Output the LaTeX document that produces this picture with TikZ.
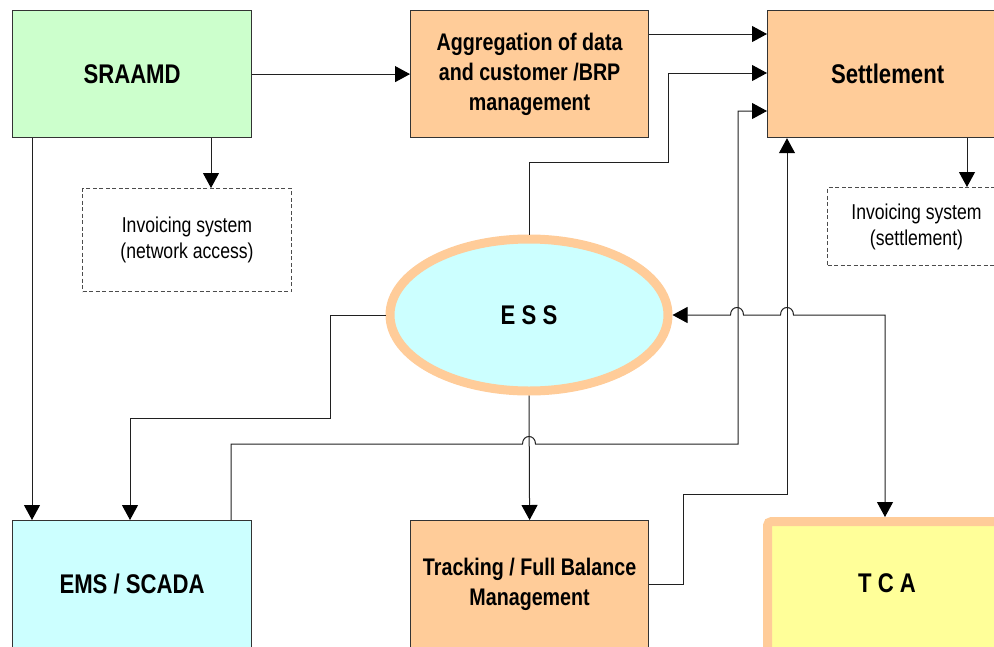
\documentclass[tikz,border=0pt]{standalone}
\usepackage{fontspec}
\setmainfont{Liberation Sans}[FakeStretch=0.82]
\usetikzlibrary{arrows.meta,shapes.geometric}

\definecolor{boxgreen}{HTML}{CCFFCC}
\definecolor{boxorange}{HTML}{FFCC99}
\definecolor{boxcyan}{HTML}{CCFFFF}
\definecolor{boxyellow}{HTML}{FFFF99}
\definecolor{edgegray}{HTML}{333333}
\definecolor{wiregray}{HTML}{202020}

\newcommand\titlebig{\fontsize{27}{32}\selectfont\bfseries}
\newcommand\titlemid{\fontsize{24}{30}\selectfont\bfseries}
\newcommand\notetext{\fontsize{21.5}{26}\selectfont}

\begin{document}
\begin{tikzpicture}[x=1pt,y=-1pt,
  sysbox/.style={rectangle, draw=edgegray, line width=1.2pt, anchor=north west,
    inner sep=0pt, align=center, minimum height=127},
  notebox/.style={rectangle, draw=black!70, line width=1pt,
    dash pattern=on 4pt off 2.5pt, anchor=north west, inner sep=0pt,
    align=center, font=\notetext},
  conn/.style={draw=wiregray, line width=1pt,
    -{Triangle[length=15pt,width=16pt,color=black]}},
  twoway/.style={draw=wiregray, line width=1pt,
    {Triangle[length=15pt,width=16pt,color=black]}-{Triangle[length=15pt,width=16pt,color=black]}}
]
\useasboundingbox (0,0) rectangle (994,646);
\clip (0,0) rectangle (994,646);

% top row
\node[sysbox, fill=boxgreen, minimum width=239, font=\titlebig] (sraamd) at (12,10) {SRAAMD};
\node[sysbox, fill=boxorange, minimum width=238, font=\titlemid] (agg) at (410,10)
  {Aggregation of data\\and customer /BRP\\management};
\node[sysbox, fill=boxorange, minimum width=240, font=\titlebig] (settle) at (767,10) {Settlement};

% invoicing systems
\node[notebox, minimum width=209, minimum height=103] (inv1) at (82,188)
  {Invoicing system\\(network access)};
\node[notebox, minimum width=178, minimum height=78] (inv2) at (827,187)
  {Invoicing system\\(settlement)};

% central system
\node[ellipse, draw=boxorange, line width=9pt, fill=boxcyan, minimum width=278,
  minimum height=152, inner sep=0pt, font=\titlebig] (ess) at (529,315) {E S S};

% bottom row
\node[sysbox, fill=boxcyan, minimum width=239, font=\titlebig] (ems) at (12,520) {EMS / SCADA};
\node[sysbox, fill=boxorange, minimum width=238, font=\titlemid] (track) at (410,520)
  {Tracking / Full Balance\\Management};
\node[rectangle, draw=boxorange, line width=9pt, fill=boxyellow, rounded corners=4pt,
  anchor=north west, inner sep=0pt, minimum width=260, minimum height=200] (tca) at (763,517) {};
\node[font=\titlebig, inner sep=0pt] (tcatext) at (887,583) {T C A};

% connectors (line hops drawn as small half-round bumps)
\draw[conn] (sraamd.east) -- (agg.west);
\draw[conn] (sraamd.south -| 211,0) -- (inv1.north -| 211,0);
\draw[conn] (sraamd.south -| 32,0) -- (ems.north -| 32,0);
\draw[conn] (agg.east |- 0,34) -- (settle.west |- 0,34);
\draw[conn] (ess.north) |- (668,162) |- (settle.west |- 0,73);
\draw[conn] (settle.south -| 967,0) -- (inv2.north -| 967,0);
\draw[conn] (ems.north -| 231,0) |- (522.5,444)
  .. controls (522.5,434) and (535.5,434) .. (535.5,444)
  -| (738,111) -- (settle.west |- 0,111);
\draw[conn] (track.east |- 0,584) -| (683,494) -| (settle.south -| 787,0);
\draw[twoway] (ess.east) -- (730.5,315)
  .. controls (730.5,305) and (743.5,305) .. (743.5,315) -- (780.5,315)
  .. controls (780.5,305) and (793.5,305) .. (793.5,315)
  -| (tca.north -| 885,0);
\draw[conn] (ess.west) -| (330,418) -| (ems.north -| 130,0);
\draw[conn] (ess.south) -- (track.north);
\end{tikzpicture}
\end{document}
